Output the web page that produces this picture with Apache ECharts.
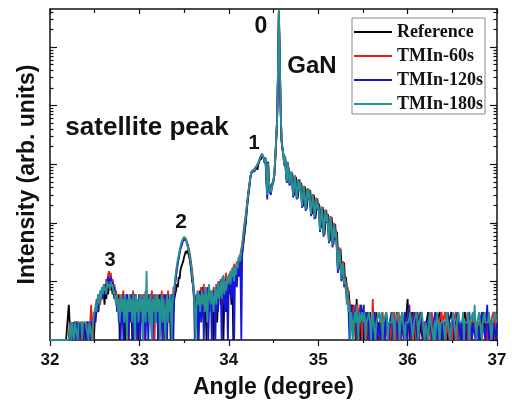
<!DOCTYPE html>
<html>
<head>
<meta charset="utf-8">
<script src="https://cdn.jsdelivr.net/npm/echarts@6/dist/echarts.min.js"></script>
<style>html,body{margin:0;padding:0;background:#fff}#c{width:512px;height:405px}</style>
</head>
<body>
<div id="c"></div>
<script>
// scan grid: 32.00 .. 37.00 deg, step 0.01 deg (one row = 0.1 deg)
const scanStart = 32.0;
const scanStep = 0.01;
const seriesNames = ['Reference', 'TMIn-60s', 'TMIn-120s', 'TMIn-180s'];
const seriesColors = ['#000000', '#ee1c1c', '#1515d8', '#25948f'];
const xTickLabels = ['32', '33', '34', '35', '36', '37'];
const annotations = ['0', 'GaN', 'satellite peak', '1', '2', '3'];

const refI = [
1,1,1,1,1,1,1,1,1,1,
1,1,1,1,1,1,1,1,1,1,
1,4,2,1,2,2,1,2,2,2,
2,1,2,2,2,1,2,2,1,2,
2,2,1,2,2,2,1,2,2,1,
2,2,3,4,3,5,4,6,5,6,
7,4,8,5,9,6,10,9,7,9,
6,8,5,7,4,5,3,6,1,4,
5,2,6,3,1,4,6,2,5,3,
4,6,1,5,3,6,2,4,5,1,
6,3,5,2,4,6,1,5,3,4,
2,5,6,3,1,4,5,2,6,3,
5,1,4,6,2,5,3,6,1,4,
6,2,5,3,4,1,5,6,3,5,
6,7,9,8,12,11,16,15,20,22,
26,28,33,30,34,29,25,20,15,10,
9,6,4,2,5,6,1,4,6,3,
5,8,2,6,4,1,7,5,3,6,
4,6,5,1,3,7,5,2,6,8,
10,4,6,8,1,5,9,3,7,10,
6,12,8,4,14,1,9,13,10,16,
20,18,22,12,26,30,40,55,75,100,
150,220,300,400,550,700,750,700,800,750,
850,900,800,1000,1100,1300,1200,1500,1600,1300,
1100,1300,600,300,1100,450,400,380,420,480,
550,650,1200,2500,5000,30000,400000,60000,8000,2500,
1800,1500,1100,1300,700,500,1000,800,450,600,
620,700,490,290,400,610,440,260,350,550,
400,480,340,190,270,420,300,170,240,380,
280,360,250,140,200,300,230,120,170,260,
190,210,160,80,120,185,130,62,95,165,
110,140,100,48,80,125,85,42,62,95,
56,70,33,16,26,36,20,11,18,21,
10,12,8,5,7,4,2,3,4,2,
3,2,1,5,2,3,2,1,2,3,
2,1,2,3,2,1,2,2,3,2,
2,2,1,2,2,3,2,1,2,2,
1,2,2,2,1,2,3,2,2,1,
2,2,1,2,2,2,1,2,3,2,
2,1,2,2,3,2,2,1,2,2,
5,2,2,1,2,3,2,2,1,2,
2,3,2,1,2,2,2,1,2,2,
1,2,2,3,2,2,1,2,2,2,
2,2,1,2,2,2,3,2,1,2,
2,1,2,2,2,1,2,2,2,3,
2,2,1,2,2,2,1,2,2,2,
1,2,2,2,3,2,1,2,2,2,
2,2,1,2,2,2,2,1,2,2,
2,1,2,2,2,3,2,2,1,2,
2,2,1,2,2,2,1,2,2,2,
2
];

const tmin60I = [
1,1,1,1,1,1,1,1,1,1,
1,1,1,1,1,1,1,1,1,1,
1,1,2,2,1,2,2,2,1,2,
2,2,2,1,2,2,2,2,2,1,
2,2,2,2,1,2,4,2,1,3,
2,3,5,4,6,5,4,7,6,8,
6,9,7,11,8,13,15,12,14,10,
11,8,9,6,7,4,5,3,6,4,
3,5,7,2,4,6,3,5,1,6,
5,2,4,7,3,5,6,1,4,5,
3,5,2,6,4,1,5,7,2,4,
6,4,3,5,7,2,4,1,6,5,
4,6,2,5,3,7,1,4,6,3,
5,3,7,4,2,6,4,1,8,6,
10,14,18,22,26,32,38,42,48,52,
58,54,56,48,44,38,32,26,20,15,
11,7,5,3,6,4,2,7,5,8,
6,4,9,3,7,5,2,8,6,4,
7,5,3,8,6,2,9,4,7,5,
8,11,6,4,12,7,9,14,5,10,
13,8,15,10,17,12,20,9,16,22,
18,26,20,30,35,45,60,85,110,140,
190,260,350,450,600,720,780,740,820,780,
880,950,900,1050,1150,1300,1250,1500,1550,1300,
1150,1250,700,320,1000,500,380,330,400,480,
520,700,1300,2800,6000,40000,420000,70000,9000,2800,
1900,1500,1000,1400,700,520,1100,750,480,650,
750,480,300,420,650,430,270,370,560,380,
500,330,200,290,430,290,180,250,390,270,
370,240,150,210,310,220,130,180,270,180,
210,160,80,120,190,130,65,100,170,110,
140,100,50,85,130,85,45,65,100,60,
75,35,17,28,38,20,12,20,22,10,
12,9,6,8,4,5,2,4,3,2,
4,2,3,1,4,2,3,4,2,1,
2,3,2,2,1,2,2,3,2,2,
1,5,2,2,3,1,2,2,2,1,
2,2,3,2,1,2,2,2,1,2,
2,1,2,2,2,3,2,1,2,2,
3,2,2,1,2,2,2,2,1,2,
2,2,4,2,1,2,2,3,2,1,
2,2,1,2,3,2,2,2,1,2,
2,1,2,2,2,2,1,3,2,2,
1,2,2,2,1,2,2,2,3,2,
2,2,3,1,2,2,2,1,2,2,
1,2,2,2,3,2,1,2,2,2,
2,2,1,2,2,2,2,3,1,2,
2,1,2,2,3,2,2,1,2,2,
2,2,2,1,2,2,2,2,3,1,
2,2,1,2,2,2,3,2,1,2,
2
];

const tmin120I = [
1,1,1,1,1,1,1,1,1,1,
1,1,1,1,1,1,1,1,1,1,
1,1,1,2,2,1,2,2,2,1,
2,2,1,2,2,2,1,2,2,2,
1,2,2,2,2,1,2,2,2,2,
3,2,4,5,3,6,5,7,6,5,
8,6,9,7,10,12,11,9,12,8,
10,7,8,5,6,3,5,2,4,1,
4,6,1,5,3,2,6,4,1,5,
2,6,4,1,5,3,6,2,1,4,
6,1,4,5,3,6,2,1,5,4,
1,6,3,4,5,1,6,3,2,5,
3,1,5,4,6,2,1,5,3,6,
4,1,6,2,5,3,6,4,1,7,
9,12,16,20,25,30,36,40,45,50,
54,50,52,45,40,34,28,22,17,12,
8,5,1,4,6,3,1,5,7,2,
4,7,1,5,6,3,8,1,4,6,
5,1,7,4,6,1,8,5,3,7,
6,9,1,12,5,8,3,11,6,1,
10,7,14,5,12,9,1,15,11,8,
16,12,24,18,1,32,42,58,80,110,
170,240,330,430,580,700,760,720,800,760,
860,920,850,1000,1100,1250,1200,1450,1500,1250,
1050,1200,500,250,950,420,330,300,380,450,
500,680,1250,2600,5500,35000,410000,65000,8500,2600,
1850,1450,950,1350,650,480,1050,720,430,620,
720,460,270,400,620,400,250,350,530,360,
470,300,180,270,410,270,160,230,370,250,
350,220,130,190,290,200,115,165,250,165,
195,145,70,110,175,120,58,90,155,100,
130,90,45,75,115,78,38,58,90,52,
65,30,14,24,32,17,10,16,18,8,
10,7,5,6,3,1,2,4,2,1,
3,2,4,2,1,3,2,2,4,2,
2,4,1,2,2,3,2,1,2,2,
2,1,2,3,2,2,1,2,2,2,
1,2,2,2,2,1,3,2,2,1,
2,2,3,2,1,2,2,2,2,1,
2,2,1,2,2,2,1,3,2,2,
1,4,2,2,2,1,2,2,3,2,
2,1,2,2,2,3,2,1,2,2,
2,2,1,2,3,2,2,2,1,2,
2,3,2,1,2,2,2,1,2,2,
1,2,2,2,2,3,2,2,1,2,
2,2,2,1,2,2,3,2,2,1,
2,1,2,2,2,1,2,2,2,3,
2,2,1,2,2,2,1,2,2,2,
1,2,2,3,2,2,2,1,2,4,
2,1,2,2,2,1,2,2,2,1,
2
];

const tmin180I = [
1,1,1,1,1,1,1,1,1,1,
1,1,1,1,1,1,1,1,1,1,
1,1,1,2,1,2,2,1,2,2,
2,1,2,2,2,2,1,2,2,2,
2,2,2,1,2,2,2,1,2,2,
2,4,3,5,6,4,7,5,8,6,
9,7,8,6,10,8,9,7,10,8,
9,6,7,5,4,6,3,5,2,4,
6,3,5,2,6,4,1,5,3,6,
3,5,2,6,4,1,6,3,5,2,
4,6,3,5,1,6,4,2,15,3,
5,2,6,4,1,5,3,6,2,4,
6,3,5,1,4,6,2,5,3,1,
4,6,2,5,3,6,1,4,6,8,
11,15,19,24,28,34,40,46,50,55,
57,52,54,46,40,35,29,23,18,13,
9,6,3,1,5,7,4,6,3,5,
7,4,6,3,8,5,2,6,9,5,
4,7,5,3,6,8,4,6,10,5,
7,10,5,8,13,6,10,7,12,9,
11,14,9,16,12,18,10,17,13,21,
17,24,28,22,34,40,55,75,100,130,
180,250,340,440,600,720,780,740,820,790,
870,940,880,1050,1150,1300,1230,1480,1580,1320,
1100,1250,650,300,1050,480,360,330,400,470,
540,720,1300,2700,5800,38000,420000,68000,8800,2700,
1900,1480,980,1380,680,510,1080,740,460,640,
740,470,290,410,640,420,260,360,550,370,
490,320,190,280,420,280,170,240,380,260,
360,230,140,200,300,210,125,175,260,175,
205,150,75,115,185,125,62,95,165,105,
135,95,48,80,125,82,42,62,95,56,
70,32,16,26,35,19,11,18,20,9,
11,8,4,7,3,4,1,3,2,1,
2,3,2,4,2,1,3,2,2,3,
2,2,3,1,2,2,2,3,2,1,
2,3,2,2,1,2,2,2,3,2,
2,3,1,2,2,2,3,2,1,2,
2,2,2,3,2,1,2,2,2,3,
2,1,2,2,3,2,2,1,2,2,
2,2,2,3,2,2,1,2,2,2,
3,2,1,2,2,2,3,2,2,1,
2,2,2,1,2,3,2,2,2,1,
2,1,2,3,2,2,1,2,2,2,
2,2,1,2,3,2,2,2,1,2,
2,3,2,2,1,2,2,3,2,2,
2,2,3,1,2,2,2,2,3,1,
2,2,2,3,2,4,2,1,2,2,
3,2,2,1,2,2,3,2,2,2,
2,3,2,2,1,2,2,2,3,2,
2
];

const intensities = [refI, tmin60I, tmin120I, tmin180I];
const yMin = 1, yMax = 446684;
const yMajor = [1, 10, 100, 1000, 10000, 100000];
const yMinor = [];
yMajor.forEach(d => { for (let k = 2; k <= 9; k++) { const v = d * k; if (v < yMax) yMinor.push(v); } });

const chart = echarts.init(document.getElementById('c'), null, {renderer: 'canvas'});
const axisCol = '#111';
const sans = 'Liberation Sans, Arial, sans-serif';

function logAxis(pos, ticks, len, showLine, extra) {
  return Object.assign({
    type: 'log', logBase: 10, min: yMin, max: yMax, position: pos,
    axisLine: {show: showLine, onZero: false, lineStyle: {color: axisCol, width: 1.5}},
    axisTick: {show: true, inside: true, length: len, customValues: ticks, lineStyle: {color: axisCol, width: 1.2}},
    axisLabel: {show: false}, splitLine: {show: false}
  }, extra || {});
}

const option = {
  animation: false,
  backgroundColor: '#fff',
  grid: {left: 50, right: 15, top: 9, bottom: 65, containLabel: false},
  legend: {
    data: seriesNames, orient: 'vertical', left: 352, top: 18,
    icon: 'rect', itemWidth: 38, itemHeight: 2, itemGap: 6, itemTextGap: 1,
    padding: [5, 2, 1, 2], borderColor: '#8a8a8a', borderWidth: 1, backgroundColor: '#fff',
    selectedMode: false,
    textStyle: {fontFamily: 'Liberation Serif, Times New Roman, serif', fontWeight: 'bold', fontSize: 18, color: '#111', lineHeight: 18}
  },
  xAxis: [
    {
      type: 'value', min: 32, max: 37, interval: 1, position: 'bottom',
      axisLine: {show: true, onZero: false, lineStyle: {color: axisCol, width: 1.5}},
      axisTick: {show: true, inside: false, length: 6, lineStyle: {color: axisCol, width: 1.2}},
      minorTick: {show: true, splitNumber: 2, length: 3, lineStyle: {color: axisCol, width: 1.2}},
      axisLabel: {fontFamily: sans, fontWeight: 'bold', fontSize: 17, color: '#111', margin: 12,
        formatter: v => xTickLabels[Math.round(v - 32)] || ''},
      splitLine: {show: false},
      name: 'Angle (degree)', nameLocation: 'middle', nameGap: 36,
      nameTextStyle: {fontFamily: sans, fontWeight: 'bold', fontSize: 23, color: '#111'}
    },
    {
      type: 'value', min: 32, max: 37, interval: 1, position: 'top',
      axisLine: {show: true, onZero: false, lineStyle: {color: axisCol, width: 1.5}},
      axisTick: {show: true, inside: true, length: 5, lineStyle: {color: axisCol, width: 1.2}},
      minorTick: {show: true, splitNumber: 2, length: 4, lineStyle: {color: axisCol, width: 1.2}},
      axisLabel: {show: false}, splitLine: {show: false}
    }
  ],
  yAxis: [
    logAxis('left', yMajor, 7, true, {
      name: 'Intensity (arb. units)', nameLocation: 'middle', nameGap: 11, nameRotate: 90,
      nameTextStyle: {fontFamily: sans, fontWeight: 'bold', fontSize: 23, color: '#111'}
    }),
    logAxis('left', yMinor, 3.5, false),
    logAxis('right', yMajor, 7, true),
    logAxis('right', yMinor, 3.5, false)
  ],
  series: seriesNames.map((n, s) => ({
    name: n, type: 'line', xAxisIndex: 0, yAxisIndex: 0,
    data: intensities[s].map((v, i) => [+(scanStart + i * scanStep).toFixed(2), v]),
    symbol: 'none', showSymbol: false, sampling: null, clip: true,
    color: seriesColors[s],
    lineStyle: {color: seriesColors[s], width: 1.8},
    itemStyle: {color: seriesColors[s]},
    z: 2 + s
  })),
  graphic: [
    {type: 'text', x: 261, y: 27, z: 100, style: {text: annotations[0], font: 'bold 23px ' + sans, fill: '#111', align: 'center', verticalAlign: 'middle'}},
    {type: 'text', x: 312, y: 66, z: 100, style: {text: annotations[1], font: 'bold 24px ' + sans, fill: '#111', align: 'center', verticalAlign: 'middle'}},
    {type: 'text', x: 147, y: 128, z: 100, style: {text: annotations[2], font: 'bold 26px ' + sans, fill: '#111', align: 'center', verticalAlign: 'middle'}},
    {type: 'text', x: 254, y: 143, z: 100, style: {text: annotations[3], font: 'bold 20px ' + sans, fill: '#111', align: 'center', verticalAlign: 'middle'}},
    {type: 'text', x: 181, y: 222, z: 100, style: {text: annotations[4], font: 'bold 21px ' + sans, fill: '#111', align: 'center', verticalAlign: 'middle'}},
    {type: 'text', x: 110, y: 260, z: 100, style: {text: annotations[5], font: 'bold 20px ' + sans, fill: '#111', align: 'center', verticalAlign: 'middle'}}
  ]
};
chart.setOption(option);
</script>
</body>
</html>
